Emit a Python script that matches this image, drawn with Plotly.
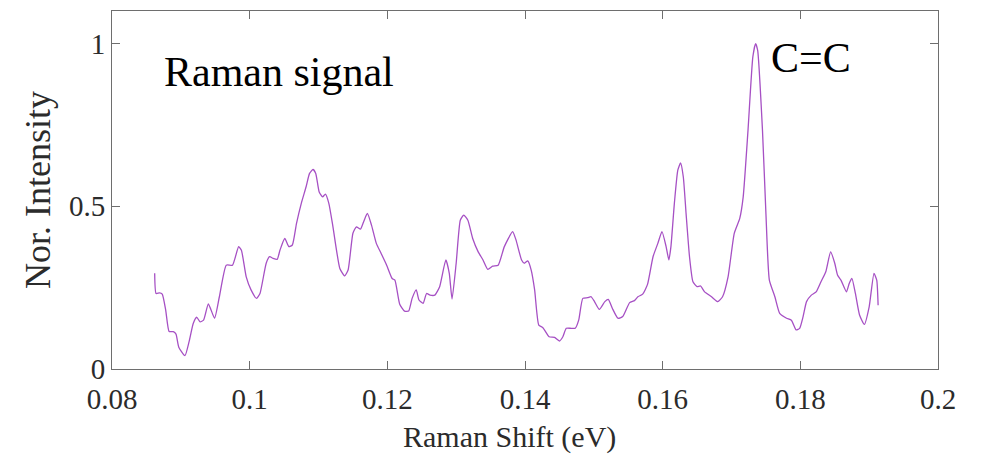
import plotly.graph_objects as go

shift_ev = [
    0.0862, 0.0864, 0.0869, 0.0873, 0.0878, 0.0883, 0.0889, 0.0893, 0.0897, 0.0906,
    0.0912, 0.0918, 0.0923, 0.0928, 0.0933, 0.0940, 0.0949, 0.0956, 0.0966, 0.0975,
    0.0984, 0.0988, 0.0995, 0.1002, 0.1010, 0.1015, 0.1024, 0.1029, 0.1034, 0.1040,
    0.1044, 0.1051, 0.1057, 0.1062, 0.1068, 0.1075, 0.1082, 0.1087, 0.1092, 0.1096,
    0.1101, 0.1106, 0.1110, 0.1115, 0.1121, 0.1131, 0.1138, 0.1143, 0.1150, 0.1155,
    0.1161, 0.1166, 0.1171, 0.1177, 0.1184, 0.1191, 0.1199, 0.1207, 0.1211, 0.1218,
    0.1225, 0.1231, 0.1236, 0.1242, 0.1246, 0.1252, 0.1257, 0.1262, 0.1269, 0.1276,
    0.1285, 0.1290, 0.1294, 0.1300, 0.1306, 0.1311, 0.1317, 0.1324, 0.1332, 0.1339,
    0.1346, 0.1353, 0.1361, 0.1370, 0.1382, 0.1387, 0.1395, 0.1399, 0.1404, 0.1409,
    0.1414, 0.1420, 0.1426, 0.1435, 0.1443, 0.1450, 0.1455, 0.1460, 0.1467, 0.1473,
    0.1478, 0.1484, 0.1491, 0.1496, 0.1501, 0.1508, 0.1516, 0.1521, 0.1527, 0.1535,
    0.1542, 0.1552, 0.1559, 0.1564, 0.1571, 0.1578, 0.1586, 0.1593, 0.1599, 0.1605,
    0.1609, 0.1612, 0.1617, 0.1622, 0.1626, 0.1630, 0.1634, 0.1639, 0.1644, 0.1650,
    0.1655, 0.1661, 0.1671, 0.1680, 0.1687, 0.1695, 0.1704, 0.1712, 0.1717, 0.1724,
    0.1731, 0.1735, 0.1738, 0.1745, 0.1750, 0.1755, 0.1763, 0.1770, 0.1780, 0.1787,
    0.1794, 0.1799, 0.1804, 0.1809, 0.1816, 0.1823, 0.1830, 0.1837, 0.1844, 0.1850,
    0.1854, 0.1859, 0.1867, 0.1871, 0.1875, 0.1880, 0.1886, 0.1893, 0.1900, 0.1907,
    0.1911, 0.1913,
]

intensity = [
    0.294, 0.232, 0.234, 0.230, 0.181, 0.115, 0.115, 0.107, 0.067, 0.041,
    0.084, 0.140, 0.159, 0.145, 0.150, 0.200, 0.156, 0.222, 0.319, 0.319,
    0.376, 0.365, 0.283, 0.243, 0.217, 0.232, 0.325, 0.345, 0.340, 0.337,
    0.365, 0.401, 0.376, 0.381, 0.447, 0.509, 0.560, 0.601, 0.613, 0.601,
    0.544, 0.529, 0.537, 0.509, 0.437, 0.309, 0.286, 0.304, 0.417, 0.437,
    0.430, 0.455, 0.478, 0.442, 0.386, 0.355, 0.319, 0.278, 0.273, 0.199,
    0.178, 0.178, 0.217, 0.243, 0.212, 0.202, 0.232, 0.227, 0.227, 0.253,
    0.335, 0.294, 0.215, 0.325, 0.457, 0.473, 0.457, 0.401, 0.360, 0.335,
    0.306, 0.316, 0.319, 0.376, 0.422, 0.396, 0.335, 0.325, 0.332, 0.304,
    0.243, 0.135, 0.127, 0.099, 0.097, 0.086, 0.099, 0.125, 0.125, 0.125,
    0.150, 0.217, 0.219, 0.222, 0.207, 0.183, 0.207, 0.214, 0.186, 0.156,
    0.161, 0.204, 0.210, 0.222, 0.230, 0.260, 0.345, 0.386, 0.422, 0.376,
    0.335, 0.376, 0.509, 0.611, 0.633, 0.590, 0.478, 0.345, 0.268, 0.253,
    0.255, 0.237, 0.222, 0.207, 0.222, 0.283, 0.417, 0.463, 0.529, 0.734,
    0.959, 1.000, 0.979, 0.734, 0.478, 0.273, 0.222, 0.171, 0.156, 0.150,
    0.120, 0.125, 0.161, 0.207, 0.227, 0.237, 0.268, 0.299, 0.360, 0.325,
    0.289, 0.273, 0.237, 0.263, 0.278, 0.232, 0.166, 0.137, 0.191, 0.294,
    0.273, 0.196,
]

x_ticks = [0.08, 0.1, 0.12, 0.14, 0.16, 0.18, 0.2]
x_tick_labels = ["0.08", "0.1", "0.12", "0.14", "0.16", "0.18", "0.2"]
y_ticks = [0, 0.5, 1]
y_tick_labels = ["0", "0.5", "1"]

FONT = "Liberation Serif, Times New Roman, Times, serif"
AXIS_COLOR = "#6e6e6e"
TEXT_COLOR = "#2b2b2b"

fig = go.Figure()
fig.add_trace(go.Scatter(
    x=shift_ev, y=intensity, mode="lines",
    line=dict(color="#a650c4", width=1.3, shape="spline", smoothing=0.5),
    showlegend=False,
))

axis_common = dict(
    showline=True, linecolor=AXIS_COLOR, linewidth=1, mirror="ticks",
    ticks="inside", ticklen=8, tickcolor=AXIS_COLOR, tickwidth=1,
    showgrid=False, zeroline=False, automargin=False,
    tickfont=dict(family=FONT, size=29, color=TEXT_COLOR),
)

fig.update_xaxes(
    range=[0.08, 0.2], tickvals=x_ticks, ticktext=x_tick_labels,
    ticklabelstandoff=4,
    **axis_common,
)
fig.update_yaxes(
    range=[0, 1.1], tickvals=y_ticks, ticktext=y_tick_labels,
    title=dict(text="Nor. Intensity", font=dict(family=FONT, size=36, color=TEXT_COLOR), standoff=7),
    **axis_common,
)

# x-axis title (placed slightly left of centre, as in the reference)
fig.add_annotation(
    x=0.4818, y=-0.19, xref="paper", yref="paper", text="Raman Shift (eV)",
    showarrow=False, xanchor="center", yanchor="middle",
    font=dict(family=FONT, size=30, color=TEXT_COLOR),
)

fig.add_annotation(
    x=0.0873, y=0.912, xref="x", yref="y", text="Raman signal",
    showarrow=False, xanchor="left", yanchor="middle",
    font=dict(family=FONT, size=42, color="#000000"),
)
fig.add_annotation(
    x=0.1754, y=0.955, xref="x", yref="y", text="C=C",
    showarrow=False, xanchor="left", yanchor="middle",
    font=dict(family=FONT, size=42, color="#000000"),
)

# page body has an 8px default margin, so offset the figure margins to place
# the plot frame where the reference has it
fig.update_layout(
    width=984, height=455,
    margin=dict(l=104, r=54, t=3, b=94),
    paper_bgcolor="white", plot_bgcolor="white",
)

fig.write_html("out.html")
